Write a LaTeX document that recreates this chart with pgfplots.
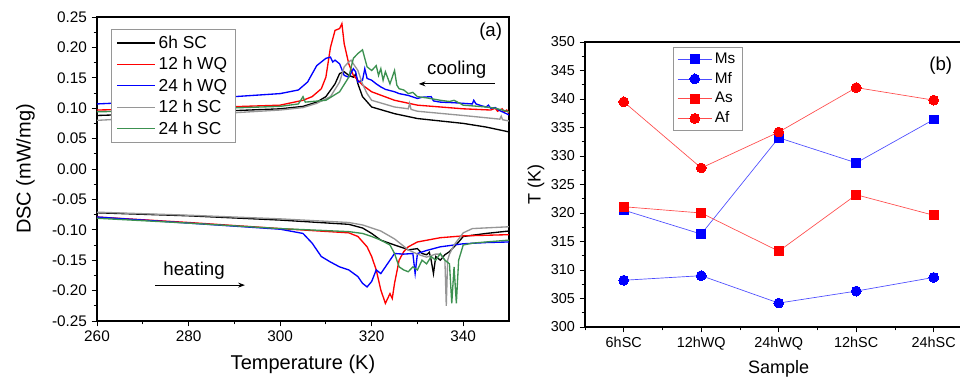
\documentclass[border=0pt]{standalone}
\usepackage{fontspec}
\setmainfont{Liberation Sans}
\usepackage{pgfplots}
\pgfplotsset{compat=1.18}
\usetikzlibrary{arrows.meta}
\definecolor{sgreen}{RGB}{60,145,80}
\definecolor{sgrey}{RGB}{150,150,150}
\begin{document}
\begin{tikzpicture}
\useasboundingbox (0,0) rectangle (720pt,283.5pt);
\begin{axis}[
  at={(72.75pt,42.75pt)}, anchor=south west,
  scale only axis, width=309pt, height=228pt,
  xmin=260, xmax=350, ymin=-0.25, ymax=0.25,
  xtick={260,280,...,340}, minor x tick num=1,
  ytick={-0.25,-0.20,...,0.26}, minor y tick num=1,
  yticklabel style={/pgf/number format/.cd,fixed,fixed zerofill,precision=2},
  /pgf/number format/assume math mode=true,
  tick align=outside, xtick pos=bottom, ytick pos=left,
  major tick length=4pt, minor tick length=2.5pt,
  tick style={black, line width=0.6pt},
  axis line style={line width=0.8pt},
  ticklabel style={font=\fontsize{11.5}{13}\selectfont},
  xlabel={Temperature (K)}, ylabel={DSC (mW/mg)},
  label style={font=\fontsize{15}{18}\selectfont},
  xlabel style={yshift=-3pt},
  ylabel style={yshift=6pt},
  legend style={at={(0.034,0.96)}, anchor=north west, draw=sgrey, line width=0.6pt,
    font=\fontsize{13}{14}\selectfont, row sep=1.2pt, inner xsep=4pt, inner ysep=2.5pt},
  legend cell align=left,
  legend image code/.code={\draw[#1, line width=1pt] (0cm,0cm) -- (1.0cm,0cm);},
]
% cooling curves
\addplot[black, line width=1pt] coordinates {(260,0.088)(280,0.093)(300,0.099)(305,0.103)(308,0.110)(310,0.119)(312,0.140)(313,0.157)(314,0.160)(315,0.154)(316,0.151)(316.5,0.156)(317,0.140)(318,0.119)(320,0.102)(325,0.091)(330,0.083)(340,0.075)(345,0.069)(350,0.061)};
\addlegendentry{6h SC}
\addplot[red, line width=1pt] coordinates {(260,0.097)(280,0.100)(300,0.105)(305,0.113)(307,0.119)(309,0.132)(310,0.151)(311,0.200)(312,0.228)(313,0.231)(313.5,0.239)(314,0.206)(315,0.173)(316,0.154)(318,0.138)(320,0.127)(325,0.113)(330,0.105)(340,0.099)(346,0.097)(347,0.100)(347.5,0.095)(348.5,0.099)(349,0.094)(349.5,0.097)(350,0.092)};
\addlegendentry{12 h WQ}
\addplot[blue, line width=1pt] coordinates {(260,0.107)(280,0.114)(300,0.124)(304,0.130)(306,0.143)(308,0.170)(309,0.176)(310,0.182)(311,0.184)(311.5,0.176)(312,0.179)(313,0.173)(314,0.154)(315,0.151)(316,0.165)(316.5,0.160)(317,0.143)(318,0.146)(318.5,0.165)(319,0.149)(320,0.146)(321,0.140)(322,0.135)(323,0.131)(325,0.127)(326,0.124)(328,0.121)(330,0.116)(331,0.118)(333,0.119)(333.5,0.112)(335,0.110)(338,0.109)(340,0.108)(342,0.107)(342.3,0.113)(342.8,0.107)(344,0.104)(345,0.102)(345.5,0.105)(346,0.100)(347,0.101)(348,0.096)(350,0.089)};
\addlegendentry{24 h WQ}
\addplot[sgrey, line width=1pt] coordinates {(260,0.080)(280,0.088)(300,0.097)(305,0.101)(308,0.108)(311,0.119)(313,0.143)(314,0.168)(315,0.176)(315.5,0.179)(316,0.173)(317,0.162)(318,0.140)(319,0.124)(320,0.113)(325,0.102)(328,0.099)(328.3,0.108)(328.6,0.098)(330,0.095)(340,0.088)(348,0.082)(348.3,0.087)(348.6,0.081)(350,0.079)};
\addlegendentry{12 h SC}
\addplot[sgreen, line width=1pt] coordinates {(260,0.094)(280,0.098)(300,0.103)(304,0.107)(305,0.119)(305.5,0.110)(310,0.113)(313,0.127)(315,0.151)(316,0.182)(317,0.190)(318,0.196)(318.5,0.182)(319,0.168)(320,0.162)(321,0.170)(321.5,0.154)(322,0.165)(322.5,0.146)(323,0.160)(324,0.140)(325,0.162)(325.5,0.138)(326,0.132)(327,0.130)(328,0.124)(329,0.126)(330,0.119)(332,0.117)(335,0.113)(337,0.111)(338,0.113)(340,0.105)(345,0.102)(347,0.100)(350,0.094)};
\addlegendentry{24 h SC}
% heating curves
\addplot[black, line width=1pt, forget plot] coordinates {(260,-0.072)(280,-0.077)(300,-0.084)(315,-0.091)(318,-0.097)(320,-0.106)(322,-0.117)(325,-0.125)(327,-0.130)(328,-0.133)(330,-0.131)(331,-0.139)(332,-0.141)(332.6,-0.137)(333,-0.150)(333.5,-0.172)(334,-0.144)(335,-0.150)(336,-0.141)(337,-0.136)(338,-0.128)(339,-0.120)(340,-0.111)(345,-0.106)(350,-0.102)};
\addplot[red, line width=1pt, forget plot] coordinates {(260,-0.079)(280,-0.088)(300,-0.098)(315,-0.105)(317,-0.111)(319,-0.128)(320,-0.144)(321,-0.166)(322,-0.199)(323,-0.221)(323.5,-0.213)(324,-0.205)(324.5,-0.213)(325,-0.188)(326,-0.150)(327,-0.136)(328,-0.128)(330,-0.120)(335,-0.113)(340,-0.110)(350,-0.108)};
\addplot[blue, line width=1pt, forget plot] coordinates {(260,-0.079)(280,-0.089)(300,-0.099)(305,-0.106)(307,-0.122)(309,-0.144)(311,-0.153)(313,-0.161)(315,-0.166)(317,-0.177)(318,-0.188)(319,-0.194)(320,-0.185)(321,-0.166)(322,-0.172)(323,-0.161)(324,-0.150)(325,-0.139)(327,-0.140)(329,-0.139)(329.5,-0.172)(330,-0.139)(332,-0.134)(335,-0.128)(340,-0.123)(345,-0.121)(350,-0.120)};
\addplot[sgrey, line width=1pt, forget plot] coordinates {(260,-0.071)(280,-0.076)(300,-0.082)(315,-0.088)(318,-0.092)(322,-0.102)(325,-0.115)(327,-0.127)(328,-0.133)(330,-0.140)(332,-0.145)(334,-0.140)(335,-0.140)(336,-0.150)(336.3,-0.225)(336.6,-0.150)(337,-0.140)(338,-0.125)(340,-0.105)(342,-0.098)(350,-0.095)};
\addplot[sgreen, line width=1pt, forget plot] coordinates {(260,-0.081)(280,-0.089)(300,-0.098)(315,-0.103)(318,-0.106)(320,-0.111)(322,-0.117)(324,-0.125)(325,-0.139)(326,-0.161)(327,-0.166)(328,-0.169)(329,-0.161)(330,-0.166)(331,-0.150)(332,-0.156)(333,-0.144)(334,-0.150)(335,-0.139)(336,-0.150)(337,-0.156)(337.5,-0.221)(338,-0.161)(338.5,-0.221)(339,-0.150)(340,-0.125)(342,-0.122)(345,-0.120)(350,-0.117)};
\node[font=\fontsize{14}{16}\selectfont] at (axis cs:346,0.226) {(a)};
\node[font=\fontsize{14}{16}\selectfont] at (axis cs:338.6,0.163) {cooling};
\draw[-{Stealth[length=5pt]}, line width=0.7pt] (axis cs:346.9,0.140) -- (axis cs:330.3,0.140);
\node[font=\fontsize{14}{16}\selectfont] at (axis cs:281.2,-0.168) {heating};
\draw[-{Stealth[length=5pt]}, line width=0.7pt] (axis cs:272.7,-0.191) -- (axis cs:292.3,-0.191);
\end{axis}
\begin{axis}[
  at={(438.75pt,38.25pt)}, anchor=south west,
  scale only axis, width=290.6pt, height=213.75pt,
  xmin=-0.5, xmax=4.5, ymin=300, ymax=350,
  xtick={0,1,2,3,4}, xticklabels={6hSC,12hWQ,24hWQ,12hSC,24hSC},
  minor xtick={-0.5,0.5,1.5,2.5,3.5},
  ytick={300,305,...,350}, minor y tick num=1,
  /pgf/number format/assume math mode=true,
  tick align=outside, xtick pos=bottom, ytick pos=left,
  major tick length=4pt, minor tick length=2.5pt,
  tick style={black, line width=0.6pt},
  axis line style={line width=0.8pt},
  ticklabel style={font=\fontsize{10.8}{12}\selectfont},
  xlabel={Sample}, ylabel={T (K)},
  label style={font=\fontsize{13.5}{16}\selectfont},
  xlabel style={yshift=-1pt},
  ylabel style={yshift=-2pt},
  legend style={at={(0.227,0.982)}, anchor=north west, draw=sgrey, line width=0.6pt,
    font=\fontsize{11.5}{12.5}\selectfont, row sep=1.2pt, inner xsep=3pt, inner ysep=2pt},
  legend cell align=left,
  legend image code/.code={\draw[#1, mark=none] (0cm,0cm) -- (0.9cm,0cm); \draw[#1, only marks] plot coordinates {(0.45cm,0cm)};},
]
\addplot[blue!70!white, line width=0.5pt, mark=square*, mark size=3.3pt, mark options={fill=blue, draw=blue, line width=0pt}] coordinates {(0,320.5)(1,316.3)(2,333.2)(3,328.8)(4,336.4)};
\addlegendentry{Ms}
\addplot[blue!70!white, line width=0.5pt, mark=*, mark size=3.7pt, mark options={fill=blue, draw=blue, line width=0pt}] coordinates {(0,308.2)(1,309.0)(2,304.2)(3,306.3)(4,308.7)};
\addlegendentry{Mf}
\addplot[red!70!white, line width=0.5pt, mark=square*, mark size=3.3pt, mark options={fill=red, draw=red, line width=0pt}] coordinates {(0,321.1)(1,320.0)(2,313.3)(3,323.2)(4,319.6)};
\addlegendentry{As}
\addplot[red!70!white, line width=0.5pt, mark=*, mark size=3.7pt, mark options={fill=red, draw=red, line width=0pt}] coordinates {(0,339.5)(1,327.9)(2,334.2)(3,342.0)(4,339.8)};
\addlegendentry{Af}
\node[font=\fontsize{14}{16}\selectfont] at (axis cs:4.09,345.8) {(b)};
\end{axis}
\end{tikzpicture}
\end{document}
